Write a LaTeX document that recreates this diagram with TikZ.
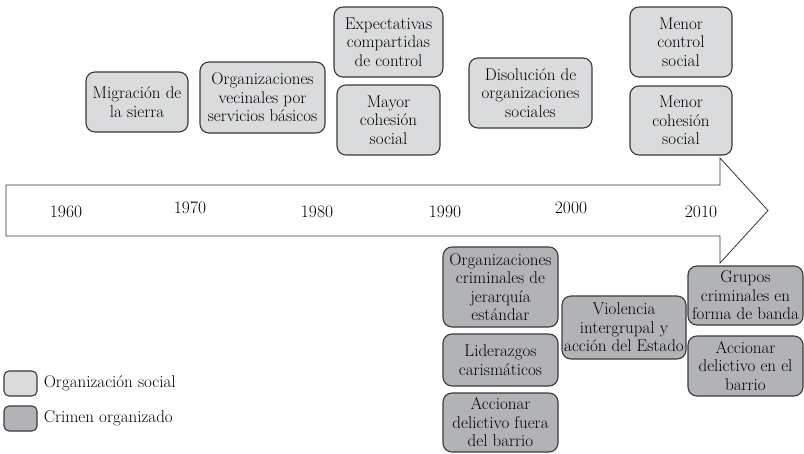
\documentclass[tikz,border=0pt]{standalone}
\definecolor{lightbox}{HTML}{DADBDD}
\definecolor{darkbox}{HTML}{B2B3B6}
\definecolor{edge}{HTML}{3A3A3A}
\begin{document}
\begin{tikzpicture}[x=1pt,y=-1pt,
  box/.style={draw=edge, line width=1.1pt, rounded corners=9pt, inner sep=0pt, align=center,
    font=\fontsize{17}{18.5}\selectfont},
  soc/.style={box, fill=lightbox},
  crim/.style={box, fill=darkbox},
  yr/.style={font=\fontsize{17.5}{20}\selectfont, inner sep=0pt},
  leg/.style={font=\fontsize{17}{20}\selectfont, inner sep=0pt, anchor=west}]
\useasboundingbox (0,0) rectangle (804,453);
% timeline arrow
\draw[line width=0.8pt, draw=black!80, fill=white]
  (6,185) -- (720,185) -- (720,158) -- (768,210.5) -- (720,263) -- (720,236) -- (6,236) -- cycle;
\node[yr] (y1960) at (66,212) {1960};
\node[yr] (y1970) at (190,208) {1970};
\node[yr] (y1980) at (317,212) {1980};
\node[yr] (y1990) at (445,212) {1990};
\node[yr] (y2000) at (571,208) {2000};
\node[yr] (y2010) at (701,212) {2010};
% social organization boxes
\node[soc, minimum width=102pt, minimum height=60pt] (mig) at (137,102) {Migración de\\la sierra};
\node[soc, minimum width=125pt, minimum height=71pt] (vec) at (262.5,97.5) {Organizaciones\\vecinales por\\servicios básicos};
\node[soc, minimum width=109pt, minimum height=70pt] (exp) at (388.5,42) {Expectativas\\compartidas\\de control};
\node[soc, minimum width=103pt, minimum height=70pt] (may) at (388.5,120) {Mayor\\cohesión\\social};
\node[soc, minimum width=123pt, minimum height=70pt] (dis) at (530.5,93) {Disolución de\\organizaciones\\sociales};
\node[soc, minimum width=102pt, minimum height=70pt] (mcon) at (681,42) {Menor\\control\\social};
\node[soc, minimum width=102pt, minimum height=69pt] (mcoh) at (681,120.5) {Menor\\cohesión\\social};
% organized crime boxes
\node[crim, minimum width=115pt, minimum height=80pt] (orgc) at (500.5,287) {Organizaciones\\criminales de\\jerarquía\\estándar};
\node[crim, minimum width=115pt, minimum height=52pt] (lid) at (500.5,360) {Liderazgos\\carismáticos};
\node[crim, minimum width=115pt, minimum height=59pt] (accf) at (500.5,422.5) {Accionar\\delictivo fuera\\del barrio};
\node[crim, minimum width=124pt, minimum height=63pt] (vio) at (624,327.5) {Violencia\\intergrupal y\\acción del Estado};
\node[crim, minimum width=115pt, minimum height=59pt] (gru) at (745.5,295.5) {Grupos\\criminales en\\forma de banda};
\node[crim, minimum width=115pt, minimum height=60pt] (accb) at (745.5,366) {Accionar\\delictivo en el\\barrio};
% legend
\node[soc, rounded corners=5pt, minimum width=33pt, minimum height=25pt] (lsoc) at (20.5,383.5) {};
\node[crim, rounded corners=5pt, minimum width=33pt, minimum height=25pt] (lcrim) at (20.5,418.5) {};
\node[leg] (tsoc) at ([xshift=6pt]lsoc.east) {Organización social};
\node[leg] (tcrim) at ([xshift=6pt]lcrim.east) {Crimen organizado};
\end{tikzpicture}
\end{document}
